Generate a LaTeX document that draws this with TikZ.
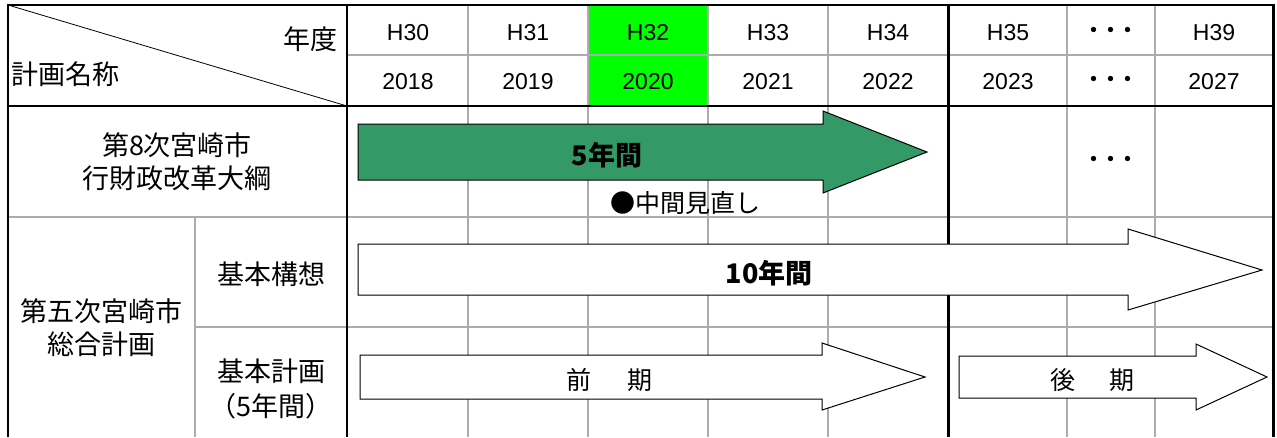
\documentclass[tikz,border=0pt]{standalone}
\usepackage{fontspec}
\setmainfont{Noto Sans CJK JP}
\newfontfamily\lat{Liberation Sans}
\definecolor{seagreen}{HTML}{339966}
\definecolor{limegreen}{HTML}{00FF00}
\newcommand{\tridots}{・\kern-8pt・\kern-8pt・}
\begin{document}
\begin{tikzpicture}[x=1pt,y=-1pt,
  gridline/.style={draw=gray!65,line width=1.5pt},
  frameline/.style={draw=black,line width=2pt},
  heavyline/.style={draw=black,line width=3pt},
  jp/.style={font=\fontsize{27}{33}\selectfont,inner sep=0pt,align=center},
  jpsmall/.style={font=\fontsize{25}{33}\selectfont,inner sep=0pt},
  jpbold/.style={font=\fontsize{27}{33}\selectfont\bfseries,inner sep=0pt},
  yr/.style={font=\lat\fontsize{23}{28}\selectfont,inner sep=0pt},
  blockarrow/.style={draw=black,line width=1pt,line join=miter}]
\useasboundingbox (0,0) rectangle (1277,437);
% highlighted year
\fill[limegreen] (588,5) rectangle (708,106);
% grey grid
\foreach \x in {468,588,708,828,1067,1155} \draw[gridline] (\x,5) -- (\x,437);
\draw[gridline] (347,55) -- (1273,55);
\draw[gridline] (8,217) -- (1273,217);
\draw[gridline] (195,327) -- (1273,327);
\draw[gridline] (195,217) -- (195,437);
% black frame
\draw[frameline] (8,437) -- (8,5) -- (1273,5);
\draw[heavyline] (1273,4) -- (1273,437);
\draw[frameline] (347,5) -- (347,437);
\draw[frameline] (8,106) -- (1273,106);
\draw[heavyline] (948,5) -- (948,437);
\draw[line width=0.8pt] (8,5) -- (347,106);
% header texts
\node[jp,anchor=east] (nendo) at (338,39) {年度};
\node[jp,anchor=west] (keikaku) at (11,74) {計画名称};
\node[yr] (h30) at (408,33) {H30};
\node[yr] (h31) at (528,33) {H31};
\node[yr] (h32) at (648,33) {H32};
\node[yr] (h33) at (768,33) {H33};
\node[yr] (h34) at (888,33) {H34};
\node[yr] (h35) at (1008,33) {H35};
\node[jpsmall] (hdots) at (1111,33) {\tridots};
\node[yr] (h39) at (1214,33) {H39};
\node[yr] (y18) at (408,82) {2018};
\node[yr] (y19) at (528,82) {2019};
\node[yr] (y20) at (648,82) {2020};
\node[yr] (y21) at (768,82) {2021};
\node[yr] (y22) at (888,82) {2022};
\node[yr] (y23) at (1008,82) {2023};
\node[jpsmall] (ydots) at (1111,82) {\tridots};
\node[yr] (y27) at (1214,82) {2027};
% row labels
\node[jp] (gyozai) at (177,162) {第8次宮崎市\\行財政改革大綱};
\node[jp] (sogo) at (101,328) {第五次宮崎市\\総合計画};
\node[jp] (koso) at (271,274) {基本構想};
\node[jp,font=\fontsize{27}{35}\selectfont] (kihon) at (271,389) {基本計画\\（5年間）};
% arrows
\draw[blockarrow,fill=seagreen] (358,124) -- (823,124) -- (823,111) -- (927,152) -- (823,193) -- (823,180) -- (358,180) -- cycle;
\draw[blockarrow,fill=white] (358,244) -- (1128,244) -- (1128,229) -- (1262,270) -- (1128,310) -- (1128,295) -- (358,295) -- cycle;
\draw[blockarrow,fill=white] (360,355) -- (822,355) -- (822,343) -- (925,377) -- (822,410) -- (822,399) -- (360,399) -- cycle;
\draw[blockarrow,fill=white] (959,356) -- (1196,356) -- (1196,344) -- (1267,377) -- (1196,410) -- (1196,398) -- (959,398) -- cycle;
% arrow texts
\node[jpbold] (go) at (607,155) {5年間};
\node[jpsmall,anchor=west] (minaoshi) at (610,203) {●中間見直し};
\node[jpsmall] (rdots) at (1111,162) {\tridots};
\node[jpbold] (ju) at (769,273) {10年間};
\node[jpsmall] (zenki) at (609,380) {前\hspace{36pt}期};
\node[jpsmall] (koki) at (1092,380) {後\hspace{34pt}期};
\end{tikzpicture}
\end{document}
